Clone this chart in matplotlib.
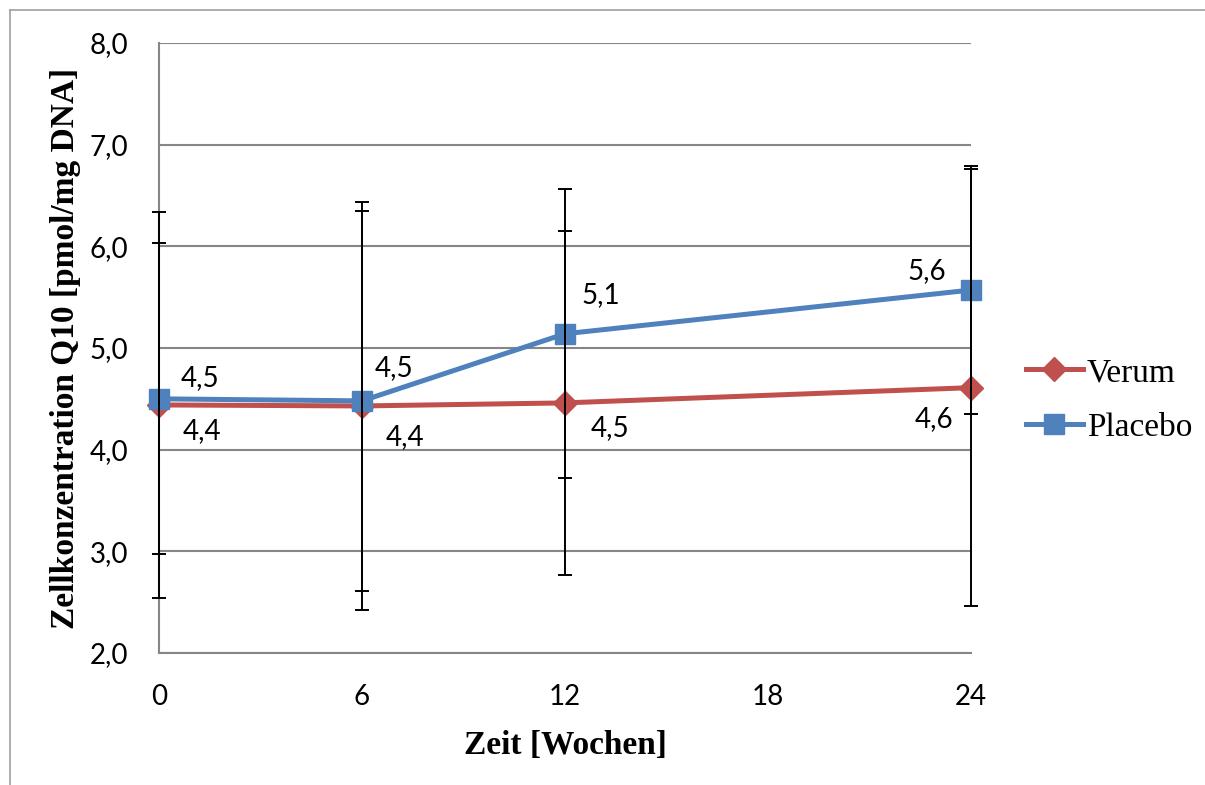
import matplotlib
matplotlib.use("Agg")
import matplotlib.pyplot as plt
from matplotlib.lines import Line2D

# data
weeks = [0, 6, 12, 24]
verum = [4.44, 4.43, 4.46, 4.61]
verum_err = [1.90, 2.01, 1.69, 2.15]
verum_labels = ["4,4", "4,4", "4,5", "4,6"]
placebo = [4.50, 4.48, 5.14, 5.57]
placebo_err = [1.53, 1.87, 1.42, 1.22]
placebo_labels = ["4,5", "4,5", "5,1", "5,6"]
x_ticks = [0, 6, 12, 18, 24]
y_ticks = [2, 3, 4, 5, 6, 7, 8]

RED = "#C0504D"
BLUE = "#4F81BD"
GRID = "#868686"
TICK_FONT = "Lato"
SERIF = "Liberation Serif"

W, H = 1205, 785
fig = plt.figure(figsize=(W / 100, H / 100), dpi=100)
ax = fig.add_axes([159 / W, 1 - 653 / H, (971 - 159) / W, (653 - 43) / H])

# outer chart border
fig.add_artist(Line2D([9.5 / W, 9.5 / W], [0, 1 - 10 / H], transform=fig.transFigure,
                      color="#a0a0a0", lw=1.2))
fig.add_artist(Line2D([9.5 / W, 1], [1 - 10 / H, 1 - 10 / H], transform=fig.transFigure,
                      color="#a0a0a0", lw=1.2))

ax.plot(weeks, verum, color=RED, lw=3.6, marker="D", markersize=12, zorder=3,
        label="Verum", clip_on=False)
ax.plot(weeks, placebo, color=BLUE, lw=3.6, marker="s", markersize=14, zorder=3,
        label="Placebo", clip_on=False)
for vals, err in [(verum, verum_err), (placebo, placebo_err)]:
    eb = ax.errorbar(weeks, vals, yerr=err, fmt="none", ecolor="black", elinewidth=1.4,
                     capsize=5, capthick=1.4, zorder=4)
    for art in eb.get_children():
        art.set_clip_on(False)

# data labels (pixel offsets from each point)
placebo_off = [(41, 21), (32, 33), (36, 39), (-44, 19)]
verum_off = [(43, -26), (43, -31), (45, -25), (-37, -31)]
for x, y, s, o in zip(weeks, placebo, placebo_labels, placebo_off):
    ax.annotate(s, (x, y), xytext=o, textcoords="offset pixels", ha="center", va="center",
                fontsize=20, family=TICK_FONT, zorder=5)
for x, y, s, o in zip(weeks, verum, verum_labels, verum_off):
    ax.annotate(s, (x, y), xytext=o, textcoords="offset pixels", ha="center", va="center",
                fontsize=20, family=TICK_FONT, zorder=5)

ax.set_xlim(0, 24)
ax.set_ylim(2, 8)
ax.set_xticks(x_ticks)
ax.set_xticklabels([str(t) for t in x_ticks], family=TICK_FONT, fontsize=20)
ax.set_yticks(y_ticks)
ax.set_yticklabels([f"{t},0" for t in y_ticks], family=TICK_FONT, fontsize=20)
ax.tick_params(axis="both", length=0)
ax.tick_params(axis="x", pad=22)
ax.tick_params(axis="y", pad=22)
ax.yaxis.grid(True, color=GRID, lw=1.5)
ax.set_axisbelow(True)
for side in ["top", "right"]:
    ax.spines[side].set_visible(False)
for side in ["left", "bottom"]:
    ax.spines[side].set_color(GRID)
    ax.spines[side].set_linewidth(1.5)

ax.set_xlabel("Zeit [Wochen]", family=SERIF, fontweight="bold", fontsize=24, labelpad=15)
ax.set_ylabel("Zellkonzentration Q10 [pmol/mg DNA]", family=SERIF, fontweight="bold",
              fontsize=24, labelpad=6)

ax.legend(loc="center left", bbox_to_anchor=(996 / W, 1 - 400 / H),
          bbox_transform=fig.transFigure, frameon=False,
          prop={"family": SERIF, "size": 24}, handlelength=1.7, handletextpad=0.12,
          labelspacing=0.72)

fig.savefig("out.png", dpi=100)
